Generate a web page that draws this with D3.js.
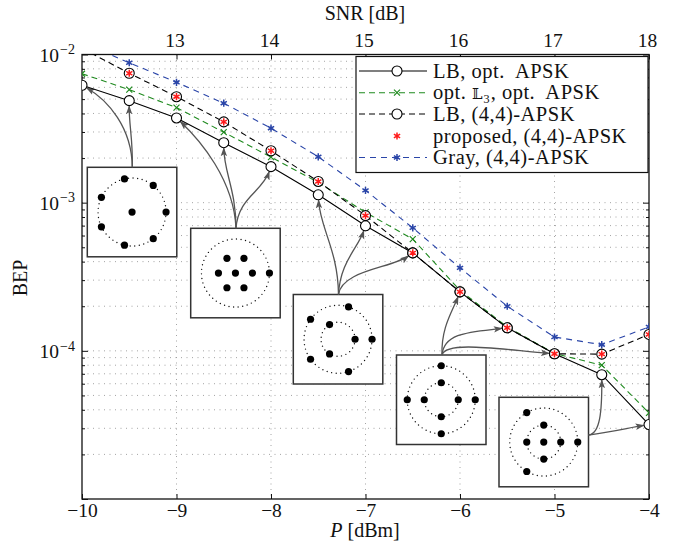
<!DOCTYPE html>
<html><head><meta charset="utf-8">
<script src="https://cdn.jsdelivr.net/npm/d3@7/dist/d3.min.js"></script>
<style>
body{margin:0;background:#fff}
svg{display:block}
text{font-family:"Liberation Serif","Times New Roman",serif;fill:#111}
</style>
</head><body>
<svg id="chart" width="674" height="542"></svg>
<script>
// ---------------- data ----------------
const power    = [-10, -9.5, -9, -8.5, -8, -7.5, -7, -6.5, -6, -5.5, -5, -4.5, -4];
const lbOpt    = [6.2e-3, 4.88e-3, 3.73e-3, 2.54e-3, 1.75e-3, 1.13e-3, 6.98e-4, 4.58e-4, 2.5e-4, 1.43e-4, 9.55e-5, 6.9e-5, 3.18e-5];
const optL3    = [7.42e-3, 5.79e-3, 4.38e-3, 2.99e-3, 2.03e-3, 1.37e-3, 8.6e-4, 5.68e-4, 2.56e-4, 1.45e-4, 9.6e-5, 8.0e-5, 3.81e-5];
const lb44     = [1.1e-2, 7.47e-3, 5.19e-3, 3.51e-3, 2.24e-3, 1.39e-3, 8.18e-4, 4.58e-4, 2.5e-4, 1.43e-4, 9.55e-5, 9.5e-5, 1.29e-4];
const proposed = [1.1e-2, 7.47e-3, 5.19e-3, 3.51e-3, 2.24e-3, 1.39e-3, 8.18e-4, 4.58e-4, 2.5e-4, 1.43e-4, 9.55e-5, 9.5e-5, 1.29e-4];
const gray44   = [1.2e-2, 8.8e-3, 6.49e-3, 4.69e-3, 3.18e-3, 2.04e-3, 1.21e-3, 6.76e-4, 3.63e-4, 2.0e-4, 1.24e-4, 1.1e-4, 1.45e-4];

const xTicks   = [-10, -9, -8, -7, -6, -5, -4];
const snrTicks = [13, 14, 15, 16, 17, 18];
const yDecadeExp = [-5, -4, -3, -2];
const yLabelExp  = [-4, -3, -2];

const legendLabels = ["LB, opt.  APSK", "opt. L3, opt.  APSK", "LB, (4,4)-APSK", "proposed, (4,4)-APSK", "Gray, (4,4)-APSK"];

// constellations: [normalized radius, angle in degrees]
const constellations = [
  { rings:[1],      pts:[[0,0],[1,0],[1,51.43],[1,102.86],[1,154.29],[1,205.71],[1,257.14],[1,308.57]] },
  { rings:[1],      pts:[[0,0],[0.5,0],[0.5,60],[0.5,120],[0.5,180],[0.5,240],[0.5,300],[1,0]] },
  { rings:[0.5,1],  pts:[[0.5,0],[0.5,120],[0.5,240],[1,0],[1,72],[1,144],[1,216],[1,288]] },
  { rings:[0.5,1],  pts:[[0.5,0],[0.5,90],[0.5,180],[0.5,270],[1,0],[1,90],[1,180],[1,270]] },
  { rings:[0.5,1],  pts:[[0,0],[0.5,0],[0.5,90],[0.5,180],[0.5,270],[1,0],[1,120],[1,240]] }
];

// ---------------- layout ----------------
const svg = d3.select("#chart");
const L = 82, R = 649, T = 54.5, B = 499;
const x  = d3.scaleLinear().domain([-10, -4]).range([L, R]);
const xs = d3.scaleLinear().domain([12, 18]).range([L, R]);
const y  = d3.scaleLog().domain([1e-5, 1e-2]).range([B, T]);

const minorVals = [];
yDecadeExp.slice(0, 3).forEach(e => { for (let m = 2; m <= 9; m++) minorVals.push(m * Math.pow(10, e)); });
const majorVals = yDecadeExp.map(e => Math.pow(10, e));

const defs = svg.append("defs");
defs.append("clipPath").attr("id", "clip").append("rect")
  .attr("x", L).attr("y", T).attr("width", R - L).attr("height", B - T);
defs.append("marker").attr("id", "arrow").attr("viewBox", "0 -3.5 9 7")
  .attr("refX", 8).attr("refY", 0).attr("markerWidth", 9).attr("markerHeight", 7)
  .attr("markerUnits", "userSpaceOnUse").attr("orient", "auto")
  .append("path").attr("d", "M0,-3.2 L9,0 L0,3.2 L2,0 Z").attr("fill", "#555");

// grid
const grid = svg.append("g").attr("stroke", "#9a9a9a").attr("stroke-width", 0.9)
  .attr("stroke-dasharray", "1,4.5").attr("fill", "none");
xTicks.filter(v => v > -10 && v < -4).forEach(v => {
  grid.append("line").attr("x1", x(v)).attr("x2", x(v)).attr("y1", T).attr("y2", B);
});
minorVals.concat([1e-3, 1e-4]).forEach(v => {
  grid.append("line").attr("x1", L).attr("x2", R).attr("y1", y(v)).attr("y2", y(v));
});

// axes
const minus = s => String(s).replace("-", "\u2212");
const gx = svg.append("g").attr("transform", `translate(0,${B})`)
  .call(d3.axisBottom(x).tickValues(xTicks).tickSize(-5).tickPadding(4).tickFormat(d => minus(d)));
const gxt = svg.append("g").attr("transform", `translate(0,${T})`)
  .call(d3.axisTop(xs).tickValues(snrTicks).tickSize(-5).tickPadding(8).tickFormat(d => d));
const gyMajor = svg.append("g").attr("transform", `translate(${L},0)`)
  .call(d3.axisLeft(y).tickValues(majorVals).tickSize(-6).tickPadding(7).tickFormat(() => ""));
const gyMinor = svg.append("g").attr("transform", `translate(${L},0)`)
  .call(d3.axisLeft(y).tickValues(minorVals).tickSize(-3).tickFormat(() => ""));
const gyMajorR = svg.append("g").attr("transform", `translate(${R},0)`)
  .call(d3.axisRight(y).tickValues(majorVals).tickSize(-6).tickFormat(() => ""));
const gyMinorR = svg.append("g").attr("transform", `translate(${R},0)`)
  .call(d3.axisRight(y).tickValues(minorVals).tickSize(-3).tickFormat(() => ""));
[gx, gxt, gyMajor, gyMinor, gyMajorR, gyMinorR].forEach(g => {
  g.select(".domain").remove();
  g.selectAll("line").attr("stroke", "#111").attr("stroke-width", 1);
  g.selectAll("text").attr("font-size", 19.5).attr("fill", "#111");
});
gxt.selectAll("text").attr("dx", -2);
// decade labels 10^e
gyMajor.selectAll(".tick").each(function (d) {
  const e = Math.round(Math.log10(d));
  const t = d3.select(this).select("text");
  if (!yLabelExp.includes(e)) { t.remove(); return; }
  t.text(null).attr("dy", "0.36em");
  t.append("tspan").text("10");
  t.append("tspan").attr("font-size", 14).attr("dy", "-0.55em").attr("dx", "1").text(minus(e));
});

// frame
svg.append("rect").attr("x", L).attr("y", T).attr("width", R - L).attr("height", B - T)
  .attr("fill", "none").attr("stroke", "#111").attr("stroke-width", 1.3);

// axis titles
svg.append("text").attr("x", 365).attr("y", 20).attr("text-anchor", "middle").attr("font-size", 20).text("SNR [dB]");
const xt = svg.append("text").attr("x", 365).attr("y", 537).attr("text-anchor", "middle").attr("font-size", 20);
xt.append("tspan").attr("font-style", "italic").text("P");
xt.append("tspan").text(" [dBm]");
svg.append("text").attr("transform", "translate(27,278) rotate(-90)").attr("text-anchor", "middle").attr("font-size", 20).text("BEP");

// insets
const boxSize = 89.5, ringR = 34;
const insetPos = [[87.3, 167.3], [190.7, 228.3], [293.3, 294.5], [396.5, 355], [499, 397.3]];
const insets = svg.append("g");
constellations.forEach((c, i) => {
  const [bx, by] = insetPos[i];
  const g = insets.append("g").attr("transform", `translate(${bx},${by})`);
  g.append("rect").attr("width", boxSize).attr("height", boxSize).attr("fill", "#fff")
    .attr("stroke", "#333").attr("stroke-width", 1.5);
  const cx = boxSize / 2, cy = boxSize / 2;
  c.rings.forEach(r => g.append("circle").attr("cx", cx).attr("cy", cy).attr("r", r * ringR)
    .attr("fill", "none").attr("stroke", "#111").attr("stroke-width", 1.4)
    .attr("stroke-linecap", "round").attr("stroke-dasharray", "0,4.6"));
  c.pts.forEach(([r, a]) => g.append("circle")
    .attr("cx", cx + r * ringR * Math.cos(a * Math.PI / 180))
    .attr("cy", cy + r * ringR * Math.sin(a * Math.PI / 180))
    .attr("r", 3.6).attr("fill", "#000"));
});

// arrows (start on inset, control points, end at LB-opt marker)
const arrowSpecs = [
  [0, 0, [132.3, 167.3], [132, 128], [108, 100]],
  [0, 1, [132.3, 167.3], [133, 140], [129, 125]],
  [1, 2, [236, 228.3], [234, 180], [200, 140]],
  [1, 3, [236, 228.3], [236, 190], [224, 172]],
  [1, 4, [236, 228.3], [238, 198], [262, 192]],
  [2, 5, [338.5, 294.5], [338, 250], [320, 228]],
  [2, 6, [338.5, 294.5], [340, 262], [358, 248]],
  [2, 7, [338.5, 294.5], [342, 270], [392, 268]],
  [3, 8, [442, 355], [441, 328], [452, 312]],
  [3, 9, [442, 355], [444, 332], [472, 332]],
  [3, 10, [442, 355], [446, 340], [505, 350]],
  [4, 11, [588.5, 435], [600, 434], [602, 412]],
  [4, 12, [588.5, 435], [612, 432], [628, 428]]
];
const arrows = svg.append("g").attr("fill", "none").attr("stroke", "#555").attr("stroke-width", 1.3);
arrowSpecs.forEach(([ins, idx, s, c1, c2]) => {
  const ex = x(power[idx]), ey = y(lbOpt[idx]);
  const dx = ex - c2[0], dy = ey - c2[1], len = Math.hypot(dx, dy);
  const e = [ex - dx / len * 5.5, ey - dy / len * 5.5];
  const p = d3.path();
  p.moveTo(s[0], s[1]);
  p.bezierCurveTo(c1[0], c1[1], c2[0], c2[1], e[0], e[1]);
  arrows.append("path").attr("d", p.toString()).attr("marker-end", "url(#arrow)");
});

// series
const series = [
  { vals: lbOpt,    color: "#000",    dash: null,  mark: "circle", line: true },
  { vals: optL3,    color: "#1f8a1f", dash: "6,4", mark: "x",      line: true },
  { vals: lb44,     color: "#000",    dash: "6,4", mark: "circle", line: true },
  { vals: proposed, color: "#ff1a1a", dash: null,  mark: "star",   line: false },
  { vals: gray44,   color: "#2a45a8", dash: "6,5", mark: "star",   line: true }
];
const lineGen = d3.line().x(d => x(d[0])).y(d => y(d[1]));
const plot = svg.append("g").attr("clip-path", "url(#clip)");

function drawMark(g, type, color, px, py) {
  if (type === "circle") {
    g.append("circle").attr("cx", px).attr("cy", py).attr("r", 5).attr("fill", "#fff")
      .attr("stroke", "#000").attr("stroke-width", 1.1);
  } else if (type === "x") {
    const h = 3;
    g.append("path").attr("d", `M${px - h},${py - h}L${px + h},${py + h}M${px - h},${py + h}L${px + h},${py - h}`)
      .attr("stroke", color).attr("stroke-width", 1.2).attr("fill", "none");
  } else if (type === "star") {
    const h = 3.6; let d = "";
    [90, 30, 150].forEach(a => {
      const c = Math.cos(a * Math.PI / 180) * h, s = Math.sin(a * Math.PI / 180) * h;
      d += `M${px - c},${py - s}L${px + c},${py + s}`;
    });
    g.append("path").attr("d", d).attr("stroke", color).attr("stroke-width", 1.5).attr("fill", "none");
  }
}
[4, 1, 2, 0].forEach(i => {
  const s = series[i];
  plot.append("path").datum(power.map((p, k) => [p, s.vals[k]]))
    .attr("d", lineGen).attr("fill", "none").attr("stroke", s.color)
    .attr("stroke-width", 1.1).attr("stroke-dasharray", s.dash);
});
[4, 1, 0, 2, 3].forEach(i => {
  const s = series[i];
  power.forEach((p, k) => drawMark(plot, s.mark, s.color, x(p), y(s.vals[k])));
});

// legend
const lg = svg.append("g");
lg.append("rect").attr("x", 356).attr("y", 56.5).attr("width", 292).attr("height", 116)
  .attr("fill", "#fff").attr("stroke", "#111").attr("stroke-width", 1.2);
const rowY = [71, 92.7, 114, 136, 157.5];
series.forEach((s, i) => {
  const yy = rowY[i];
  if (s.line) lg.append("line").attr("x1", 359).attr("x2", 427).attr("y1", yy).attr("y2", yy)
    .attr("stroke", s.color).attr("stroke-width", 1.1).attr("stroke-dasharray", s.dash);
  drawMark(lg, s.mark, s.color, 397, yy);
  const t = lg.append("text").attr("x", 433).attr("y", yy + 6.5).attr("font-size", 20.5)
    .attr("letter-spacing", 0.5);
  if (i === 1) {
    t.append("tspan").text("opt. ");
    t.append("tspan").attr("font-family", "DejaVu Serif, DejaVu Sans, serif").attr("font-size", 15).text("\uD835\uDD43");
    t.append("tspan").text("\u2083, opt.\u00A0 APSK");
  } else {
    t.text(legendLabels[i].replace("  ", "\u00A0 "));
  }
});
</script>
</body></html>
